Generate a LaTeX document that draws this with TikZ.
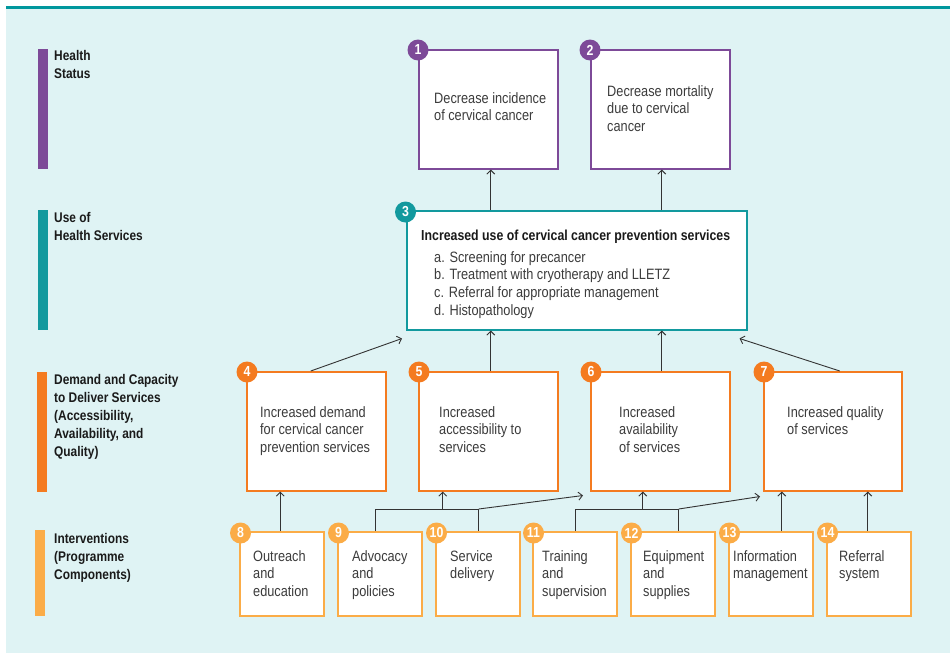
\documentclass[tikz,border=0pt]{standalone}
\usepackage{fontspec}
\setmainfont[FakeStretch=0.85]{Liberation Sans}
\usetikzlibrary{arrows.meta,calc}
\definecolor{bgc}{HTML}{DFF3F4}
\definecolor{tealtop}{HTML}{00979D}
\definecolor{purp}{HTML}{7D4A98}
\definecolor{tealc}{HTML}{12999E}
\definecolor{orng}{HTML}{F47B20}
\definecolor{lorng}{HTML}{FBAC47}
\definecolor{txt}{HTML}{3C3C3C}
\definecolor{labc}{HTML}{1A1A1A}
\definecolor{lnc}{HTML}{333333}
\begin{document}
\begin{tikzpicture}[x=1pt,y=-1pt,
 box/.style={draw, line width=1.5pt, fill=white, rectangle, anchor=north west, inner sep=0pt},
 num/.style={circle, inner sep=0pt, minimum size=21pt, text=white, font=\fontsize{14.5}{14.5}\selectfont\bfseries},
 body/.style={anchor=north west, inner sep=0pt, align=left, text=txt, font=\fontsize{15}{17.8}\selectfont},
 lab/.style={anchor=north west, inner sep=0pt, align=left, text=labc, font=\fontsize{14}{18}\selectfont\bfseries},
 arr/.style={draw=lnc, line width=0.9pt, -{Straight Barb[length=4pt,width=8pt]}},
 ln/.style={draw=lnc, line width=0.9pt}]
\useasboundingbox (0,0) rectangle (950,653);
\fill[white] (0,0) rectangle (950,653);
\fill[bgc] (6,8) rectangle (950,653);
\fill[tealtop] (6,5.5) rectangle (950,8.5);
% level bars
\fill[purp] (38,49) rectangle (48,169);
\fill[tealc] (38,210) rectangle (48,330);
\fill[orng] (37,372) rectangle (47,492);
\fill[lorng] (35,530) rectangle (45,616);
% level labels
\node[lab] (l1) at (54,50) {Health\\Status};
\node[lab] (l2) at (54,212) {Use of\\Health Services};
\node[lab] (l3) at (54,374) {Demand and Capacity\\to Deliver Services\\(Accessibility,\\Availability, and\\Quality)};
\node[lab] (l4) at (54,533) {Interventions\\(Programme\\Components)};
% boxes
\node[box, draw=purp, minimum width=139pt, minimum height=119pt] (b1) at (418,49) {};
\node[box, draw=purp, minimum width=139pt, minimum height=119pt] (b2) at (590,49) {};
\node[box, draw=tealc, minimum width=340pt, minimum height=119pt] (b3) at (406,210) {};
\node[box, draw=orng, minimum width=139pt, minimum height=119pt] (b4) at (246,371) {};
\node[box, draw=orng, minimum width=139pt, minimum height=119pt] (b5) at (418,371) {};
\node[box, draw=orng, minimum width=139pt, minimum height=119pt] (b6) at (590,371) {};
\node[box, draw=orng, minimum width=138pt, minimum height=119pt] (b7) at (763,371) {};
\foreach \n/\x in {8/239,9/337,10/435,11/532,12/630,13/728,14/826}{
  \node[box, draw=lorng, minimum width=84pt, minimum height=84pt] (b\n) at (\x,531) {};
}
% texts
\node[body] (t1) at (434,92) {Decrease incidence\\of cervical cancer};
\node[body] (t2) at (607,85) {Decrease mortality\\due to cervical\\cancer};
\node[body, font=\fontsize{14.5}{17.8}\selectfont\bfseries, text=labc] (t3) at (421,230) {Increased use of cervical cancer prevention services};
\node[body] (t3b) at (434,251) {a. Screening for precancer\\b. Treatment with cryotherapy and LLETZ\\c. Referral for appropriate management\\d. Histopathology};
\node[body] (t4) at (260,406) {Increased demand\\for cervical cancer\\prevention services};
\node[body] (t5) at (439,406) {Increased\\accessibility to\\services};
\node[body] (t6) at (619,406) {Increased\\availability\\of services};
\node[body] (t7) at (787,406) {Increased quality\\of services};
\node[body] (t8) at (253,550) {Outreach\\and\\education};
\node[body] (t9) at (352,550) {Advocacy\\and\\policies};
\node[body] (t10) at (450,550) {Service\\delivery};
\node[body] (t11) at (542,550) {Training\\and\\supervision};
\node[body] (t12) at (643,550) {Equipment\\and\\supplies};
\node[body] (t13) at (733,550) {Information\\management};
\node[body] (t14) at (839,550) {Referral\\system};
% number badges
\node[num, fill=purp] (n1) at ([yshift=-1pt]b1.north west) {1};
\node[num, fill=purp] (n2) at ([yshift=-1pt]b2.north west) {2};
\node[num, fill=tealc] (n3) at ([xshift=-0.5pt,yshift=-2pt]b3.north west) {3};
\foreach \n in {4,5,6,7}{\node[num, fill=orng] (n\n) at ([xshift=1pt,yshift=-1pt]b\n.north west) {\n};}
\foreach \n in {8,9,10,11,12,13,14}{\node[num, fill=lorng] (n\n) at ([xshift=1.5pt,yshift=-2pt]b\n.north west) {\n};}
% connectors: use -> health status
\draw[arr] ([xshift=-86pt]b3.north) -- ([xshift=-86pt]b3.north |- b1.south);
\draw[arr] ([xshift=85pt]b3.north) -- ([xshift=85pt]b3.north |- b2.south);
% demand/capacity -> use
\draw[arr] ([xshift=-5.5pt]b4.north) -- ([xshift=-4pt,yshift=-8pt]b3.south west);
\draw[arr] ([xshift=-86pt]b3.south |- b5.north) -- ([xshift=-86pt]b3.south);
\draw[arr] ([xshift=85pt]b3.south |- b6.north) -- ([xshift=85pt]b3.south);
\draw[arr] ([xshift=7pt]b7.north) -- ([xshift=-8pt,yshift=-8pt]b3.south east);
% interventions -> demand/capacity
\draw[arr] ([xshift=-1.5pt]b8.north) -- ([xshift=-1.5pt]b8.north |- b4.south);
\coordinate (j1) at ([xshift=-4pt,yshift=22pt]b9.north);
\coordinate (j2) at ([xshift=1pt,yshift=22pt]b10.north);
\draw[ln] ([xshift=-4pt]b9.north) -- (j1) -- (j2) -- ([xshift=1pt]b10.north);
\draw[arr] ([xshift=-45.5pt]b5.south |- j1) -- ([xshift=-45.5pt]b5.south);
\draw[arr] (j2) -- ([xshift=-7pt,yshift=-4pt]b6.south west);
\coordinate (j3) at ([xshift=1pt,yshift=22pt]b11.north);
\coordinate (j4) at ([xshift=6pt,yshift=22pt]b12.north);
\draw[ln] ([xshift=1pt]b11.north) -- (j3) -- (j4) -- ([xshift=6pt]b12.north);
\draw[arr] ([xshift=-17.5pt]b6.south |- j3) -- ([xshift=-17.5pt]b6.south);
\draw[arr] (j4) -- ([xshift=-3pt,yshift=-5pt]b7.south west);
\draw[arr] ([xshift=11pt]b13.north) -- ([xshift=11pt]b13.north |- b7.south);
\draw[arr] ([xshift=-1pt]b14.north) -- ([xshift=-1pt]b14.north |- b7.south);
\end{tikzpicture}
\end{document}
